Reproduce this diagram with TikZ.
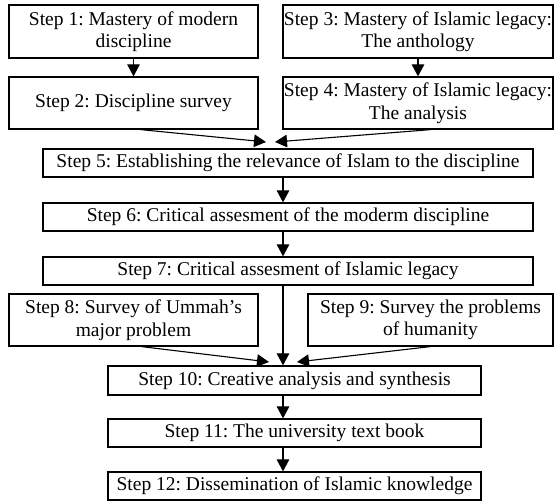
\documentclass[tikz,border=0pt]{standalone}
\usepackage{fontspec}
\setmainfont{Liberation Serif}
\usetikzlibrary{arrows.meta}
\frenchspacing
\begin{document}
\begin{tikzpicture}[x=1pt,y=-1pt,
  box/.style={draw=black, line width=1.2pt, rectangle, align=center, inner sep=0pt,
    font=\rmfamily\frenchspacing\fontsize{19.5}{22.5}\selectfont},
  arr/.style={line width=1.1pt, -{Triangle[length=12pt,width=12.5pt]}}]
\useasboundingbox (0,0) rectangle (554,502);
\node[box, minimum width=249pt, minimum height=53pt] (b1) at (133.5,31.5) {Step 1: Mastery of modern\\discipline};
\node[box, minimum width=270pt, minimum height=53pt] (b3) at (418,31.5) {Step 3: Mastery of Islamic legacy:\\The anthology};
\node[box, minimum width=249pt, minimum height=52pt] (b2) at (133.5,103) {Step 2: Discipline survey};
\node[box, minimum width=270pt, minimum height=52pt] (b4) at (418,103) {Step 4: Mastery of Islamic legacy:\\The analysis};
\node[box, minimum width=490pt, minimum height=28pt] (b5) at (288,163) {Step 5: Establishing the relevance of Islam to the discipline};
\node[box, minimum width=490pt, minimum height=28pt] (b6) at (288,217) {Step 6: Critical assesment of the moderm discipline};
\node[box, minimum width=490pt, minimum height=28pt] (b7) at (288,271) {Step 7: Critical assesment of Islamic legacy};
\node[box, minimum width=249pt, minimum height=52pt] (b8) at (133.5,320) {Step 8: Survey of Ummah’s\\major problem};
\node[box, minimum width=245pt, minimum height=52pt] (b9) at (430.5,320) {Step 9: Survey the problems\\of humanity};
\node[box, minimum width=373pt, minimum height=29pt] (b10) at (294.5,380.5) {Step 10: Creative analysis and synthesis};
\node[box, minimum width=373pt, minimum height=28pt] (b11) at (294.5,433) {Step 11: The university text book};
\node[box, minimum width=373pt, minimum height=28pt] (b12) at (294.5,486) {Step 12: Dissemination of Islamic knowledge};
\coordinate (axis) at (283,0);
\coordinate (t5l) at (266,142);
\coordinate (t5r) at (275,142);
\coordinate (t10l) at (269,362);
\coordinate (t10r) at (297,362);
\draw[arr] (b1) -- (b2);
\draw[arr] (b3) -- (b4);
\draw[arr] ([xshift=7pt]b2.south) -- (t5l);
\draw[arr] ([xshift=13pt]b4.south) -- (t5r);
\draw[arr] (b5.south -| axis) -- (b6.north -| axis);
\draw[arr] (b6.south -| axis) -- (b7.north -| axis);
\draw[arr] (b7.south -| axis) -- (b10.north -| axis);
\draw[arr] ([xshift=8pt]b8.south) -- (t10l);
\draw[arr] (b9.south) -- (t10r);
\draw[arr] (b10.south -| axis) -- (b11.north -| axis);
\draw[arr] (b11.south -| axis) -- (b12.north -| axis);
\end{tikzpicture}
\end{document}
